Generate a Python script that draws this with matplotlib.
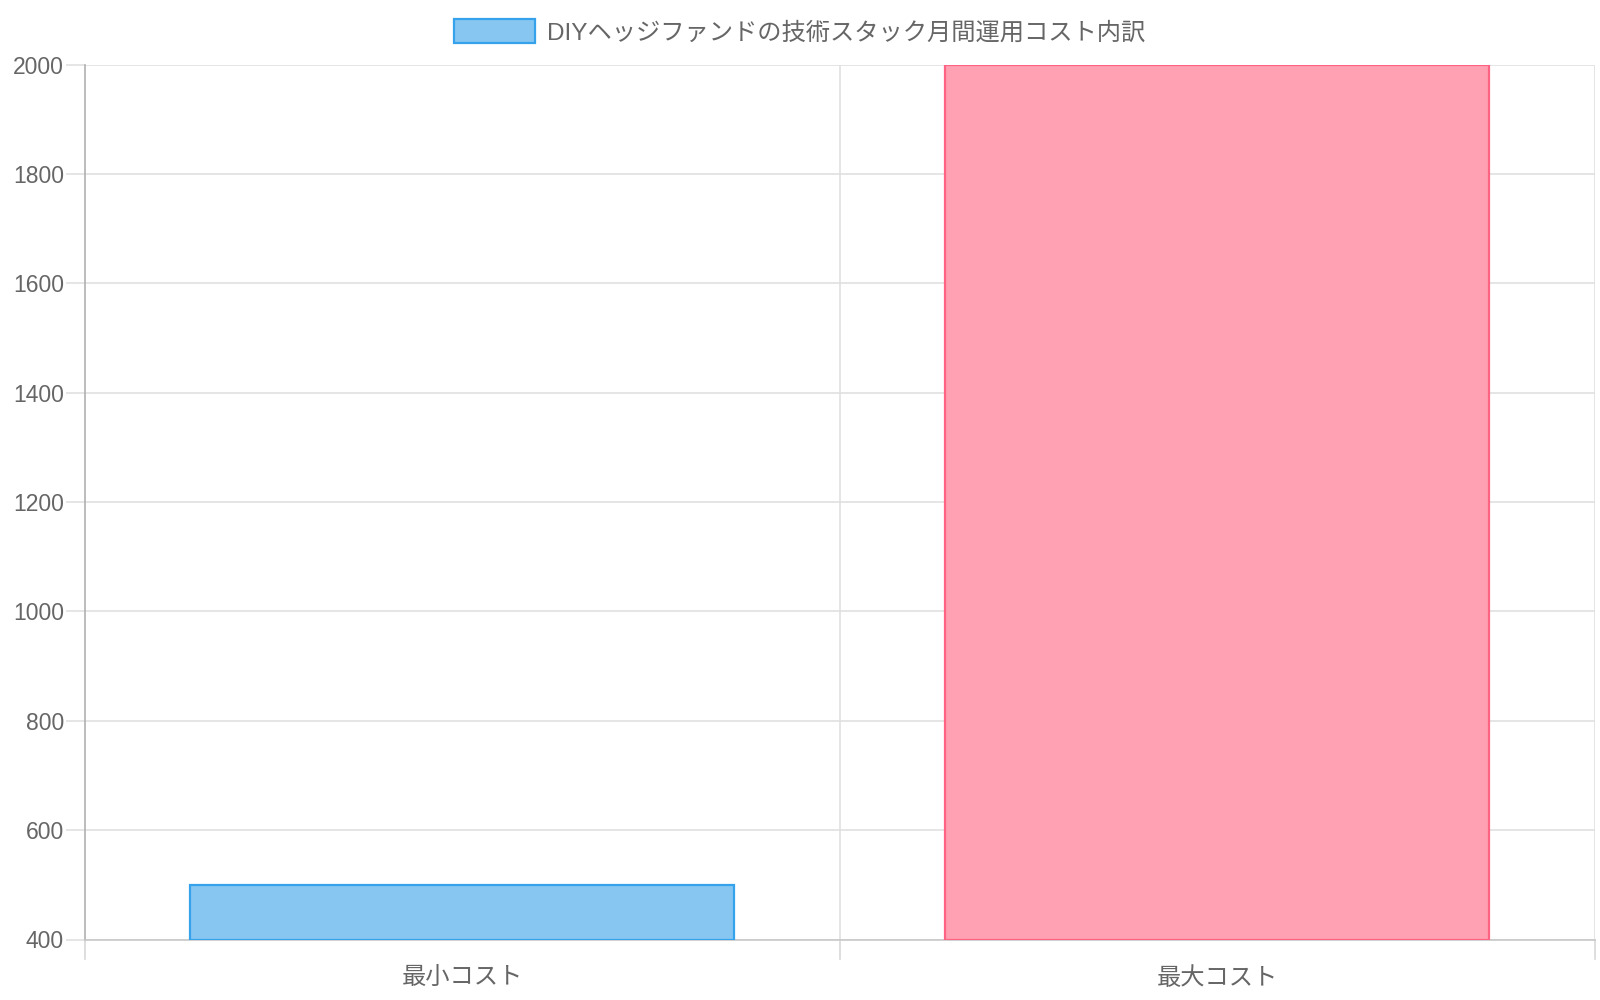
import matplotlib
matplotlib.use('Agg')
import matplotlib.pyplot as plt
from matplotlib.patches import Patch

plt.rcParams['font.family'] = ['Liberation Sans', 'Noto Sans CJK JP', 'DejaVu Sans']

# data
categories = ['最小コスト', '最大コスト']
values = [500, 2000]
title = 'DIYヘッジファンドの技術スタック月間運用コスト内訳'
fill_colors = ['#88c6f2', '#ffa1b3']
edge_colors = ['#36a2eb', '#ff6384']
y_ticks = [400, 600, 800, 1000, 1200, 1400, 1600, 1800, 2000]

fig = plt.figure(figsize=(16, 10), dpi=100)
ax = fig.add_axes([0.0529, 0.0605, 0.9439, 0.875])

x = range(len(categories))
base = 400
ax.bar(x, [v - base for v in values], bottom=base, width=0.72,
       color=fill_colors, edgecolor=edge_colors, linewidth=1.6, zorder=3)

ax.set_xlim(-0.5, 1.5)
ax.set_ylim(400, 2000)
ax.set_yticks(y_ticks)
ax.set_yticklabels([str(t) for t in y_ticks])
ax.set_xticks(list(x))
ax.set_xticklabels(categories)

# grid lines
for t in y_ticks:
    ax.axhline(t, color='#e0e0e0', lw=1.2, zorder=1)
for gx in [0.5, 1.5]:
    ax.axvline(gx, color='#e0e0e0', lw=1.2, zorder=1)

for s in ['top', 'right']:
    ax.spines[s].set_visible(False)
ax.spines['left'].set_color('#b0b0b0')
ax.spines['bottom'].set_color('#c8c8c8')
ax.spines['left'].set_linewidth(1.2)
ax.spines['bottom'].set_linewidth(1.2)

ax.tick_params(axis='y', length=13.5, width=1.2, color='#e0e0e0', labelcolor='#666666',
               labelsize=16.5, pad=1.5)
ax.tick_params(axis='x', length=0, labelcolor='#666666', labelsize=17.5, pad=20)

# category boundary ticks below the axis
for gx in [-0.5, 0.5, 1.5]:
    ax.plot([gx, gx], [0, -0.022], transform=ax.get_xaxis_transform(),
            color='#d8d8d8', lw=1.2, clip_on=False)

handle = Patch(facecolor=fill_colors[0], edgecolor=edge_colors[0], linewidth=1.6)
leg = fig.legend([handle], [title], loc='center', bbox_to_anchor=(0.4998, 0.968),
                 frameon=False, fontsize=17.5, handlelength=3.3, handleheight=1.15,
                 handletextpad=0.5)
for t in leg.get_texts():
    t.set_color('#666666')

fig.savefig('out.png', dpi=100)
